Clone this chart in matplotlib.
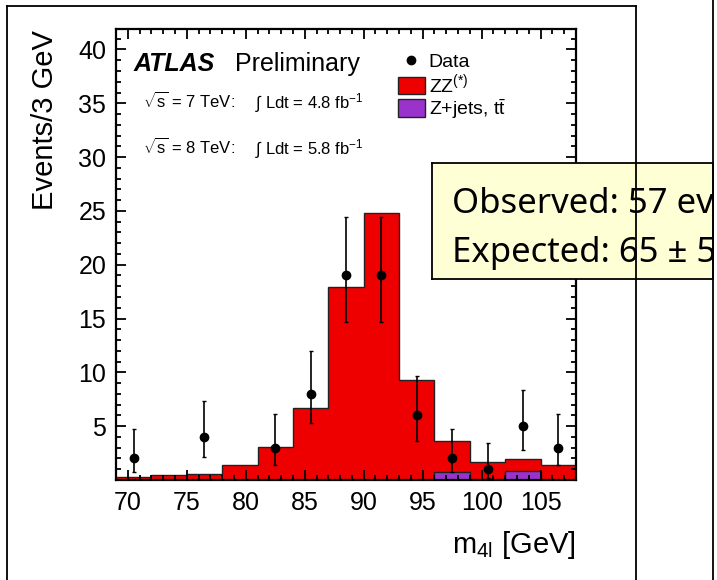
import matplotlib
matplotlib.use("Agg")
import matplotlib.pyplot as plt
from matplotlib.patches import Patch
from matplotlib.lines import Line2D
from matplotlib.ticker import MultipleLocator, FixedLocator

plt.rcParams['font.family'] = ['Liberation Sans', 'DejaVu Sans']
plt.rcParams['mathtext.fontset'] = 'custom'
plt.rcParams['mathtext.rm'] = 'Liberation Sans'
plt.rcParams['mathtext.it'] = 'Liberation Sans:italic'
plt.rcParams['mathtext.bf'] = 'Liberation Sans:bold'

# bins of 3 GeV in m4l
edges = [69, 72, 75, 78, 81, 84, 87, 90, 93, 96, 99, 102, 105, 108]
centers = [70.5, 73.5, 76.5, 79.5, 82.5, 85.5, 88.5, 91.5, 94.5, 97.5, 100.5, 103.5, 106.5]
# total expectation (ZZ* + Z+jets/ttbar)
total = [0.3, 0.5, 0.6, 1.4, 3.1, 6.7, 17.9, 24.8, 9.3, 3.6, 1.7, 1.95, 1.4]
zjets = [0, 0, 0, 0, 0, 0, 0, 0, 0, 0.7, 0, 0.85, 0]
data = [2, 0, 4, 0, 3, 8, 19, 19, 6, 2, 1, 5, 3]
err_hi = [2.7, 0, 3.3, 0, 3.1, 4.0, 5.4, 5.4, 3.7, 2.7, 2.4, 3.4, 3.1]
err_lo = [1.3, 0, 1.9, 0, 1.6, 2.7, 4.3, 4.3, 2.4, 1.3, 0.85, 2.2, 1.6]

W, H = 717, 580
fig = plt.figure(figsize=(W / 100, H / 100), dpi=100)

def fx(px):
    return px / W

def fy(py):
    return 1 - py / H

ax = fig.add_axes([fx(116), fy(480), fx(576) - fx(116), fy(29) - fy(480)])

ax.stairs(total, edges, fill=True, facecolor='#ee0000', edgecolor='#222222',
          linewidth=1.0, zorder=1)
ax.stairs(zjets, edges, fill=True, facecolor='#9933cc', edgecolor='#222222',
          linewidth=1.0, zorder=1.1)

dx, dy, dlo, dhi = [], [], [], []
for c, v, lo, hi in zip(centers, data, err_lo, err_hi):
    if v > 0:
        dx.append(c); dy.append(v); dlo.append(lo); dhi.append(hi)
ax.errorbar(dx, dy, yerr=[dlo, dhi], fmt='o', color='black', markersize=6,
            elinewidth=1.2, capsize=1.5, zorder=5)

ax.set_xlim(69, 108)
ax.set_ylim(0, 41.9)
ax.xaxis.set_major_locator(FixedLocator([70, 75, 80, 85, 90, 95, 100, 105]))
ax.xaxis.set_minor_locator(MultipleLocator(1))
ax.yaxis.set_major_locator(FixedLocator([5, 10, 15, 20, 25, 30, 35, 40]))
ax.yaxis.set_minor_locator(MultipleLocator(1))
ax.tick_params(which='both', direction='in', top=True, right=True, width=1.3)
ax.tick_params(which='major', length=7, labelsize=18)
ax.tick_params(which='minor', length=3.5)
ax.tick_params(axis='x', pad=8)
ax.tick_params(axis='y', pad=7)
for s in ax.spines.values():
    s.set_linewidth(1.6)

ax.text(0.037, 0.907, 'ATLAS', transform=ax.transAxes, fontsize=18,
        fontweight='bold', fontstyle='italic')
ax.text(0.258, 0.907, 'Preliminary', transform=ax.transAxes, fontsize=18)
ax.text(0.059, 0.825, r'$\sqrt{\mathrm{s}}$ = 7 TeV:', transform=ax.transAxes,
        fontsize=12)
ax.text(0.059, 0.723, r'$\sqrt{\mathrm{s}}$ = 8 TeV:', transform=ax.transAxes,
        fontsize=12)
ax.text(0.302, 0.825, r'$\int$ Ldt = 4.8 fb$^{-1}$', transform=ax.transAxes,
        fontsize=12)
ax.text(0.302, 0.723, r'$\int$ Ldt = 5.8 fb$^{-1}$', transform=ax.transAxes,
        fontsize=12)

handles = [Line2D([], [], marker='o', color='black', linestyle='none', markersize=6),
           Patch(facecolor='#ee0000', edgecolor='#222222'),
           Patch(facecolor='#9933cc', edgecolor='#222222')]
labels = ['Data', r'ZZ$^{(*)}$', r'Z+jets, t$\bar{\mathrm{t}}$']
ax.legend(handles, labels, loc='upper left', bbox_to_anchor=(0.587, 0.975),
          frameon=False, fontsize=14, handlelength=1.4, handleheight=1.0,
          handletextpad=0.2, labelspacing=0.05, borderpad=0.1)

fig.text(fx(45), fy(30), 'Events/3 GeV', rotation=90, ha='center', va='top',
         fontsize=21)
fig.text(fx(576), fy(553), r'm$_{\mathrm{4l}}$ [GeV]', ha='right', va='baseline',
         fontsize=21)

# slide frame lines
lk = dict(color='black', linewidth=1.3, transform=fig.transFigure)
fig.add_artist(Line2D([fx(7), fx(636)], [fy(6), fy(6)], **lk))
fig.add_artist(Line2D([fx(7), fx(7)], [fy(6), 0], **lk))
fig.add_artist(Line2D([fx(636), fx(636)], [fy(6), 0], **lk))
fig.add_artist(Line2D([fx(713), fx(713)], [1, 0], **lk))

# yellow callout box (text runs past the slide edge and is cut there)
bx = fig.add_axes([fx(432), fy(279), fx(713) - fx(432), fy(163) - fy(279)])
bx.set_facecolor('#ffffd6')
bx.set_xticks([]); bx.set_yticks([])
for s in bx.spines.values():
    s.set_linewidth(1.3)
bx.set_xlim(0, 1); bx.set_ylim(0, 1)
bx.text(0.071, 0.57, 'Observed: 57 events', fontsize=25, family='Noto Sans',
        va='baseline', clip_on=True)
bx.text(0.071, 0.15, 'Expected: 65 \u00b1 5 events', fontsize=25,
        family='Noto Sans', va='baseline', clip_on=True)

fig.savefig('out.png', dpi=100)
